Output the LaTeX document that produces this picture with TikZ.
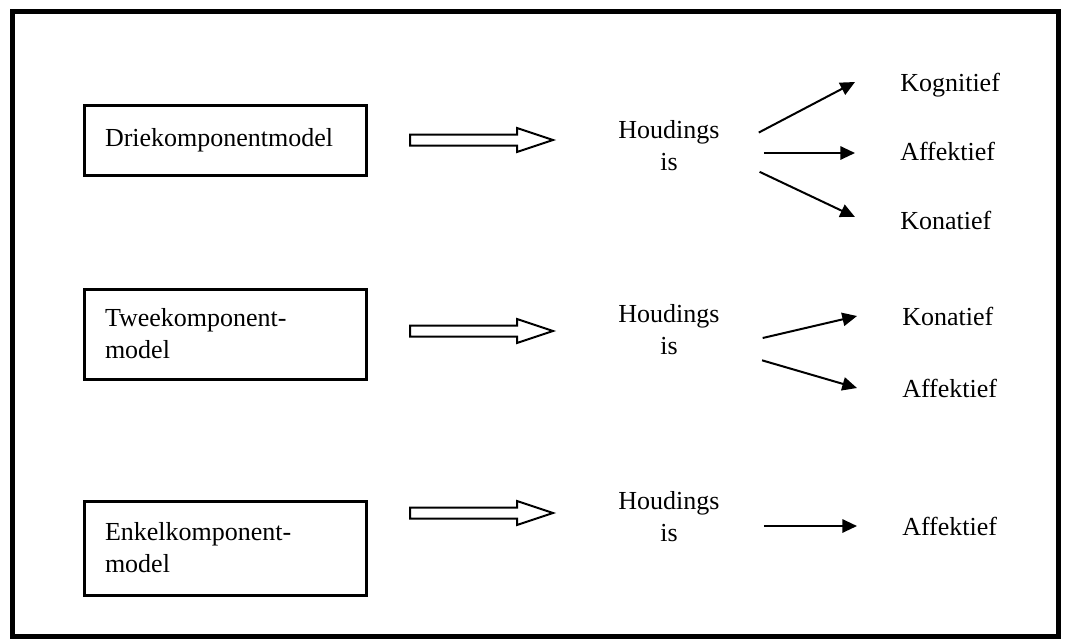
\documentclass[tikz,border=0pt]{standalone}
\usepackage{fontspec}
\setmainfont{Liberation Serif}
\usetikzlibrary{arrows.meta}
\begin{document}
\begin{tikzpicture}[x=0.75pt,y=0.75pt,
        every node/.style={font=\fontsize{19.5}{24}\selectfont, inner sep=0pt},
        model/.style={draw, line width=2.25pt, text width=180pt, align=left, inner xsep=15.75pt, minimum height=#1},
        hol/.style={draw, line width=1.5pt, line join=miter},
        hou/.style={align=center},
        comp/.style={anchor=base west},
        pijl/.style={line width=1.5pt, shorten <=33pt, -{Triangle[length=11pt,width=10pt]}}]
        \useasboundingbox (0,0) rectangle (1065,-640);
        \draw [line width=3.75pt] (12,-11) rectangle (1058,-636);
        \node [model=52.5pt] (drie) at (225,-140) {Driekomponentmodel};
        \node [model=67.5pt] (twee) at (225,-334) {Tweekomponent-\\model};
        \node [model=70.5pt] (enkel) at (225,-548) {Enkelkomponent-\\model};
        \draw [hol] (410,-134.5) -- ++(107,0) -- ++(0,6.5) -- ++(36,-12) -- ++(-36,-12) -- ++(0,6.5) -- ++(-107,0) -- cycle;
        \draw [hol] (410,-325.5) -- ++(107,0) -- ++(0,6.5) -- ++(36,-12) -- ++(-36,-12) -- ++(0,6.5) -- ++(-107,0) -- cycle;
        \draw [hol] (410,-507.5) -- ++(107,0) -- ++(0,6.5) -- ++(36,-12) -- ++(-36,-12) -- ++(0,6.5) -- ++(-107,0) -- cycle;
        \node [hou] (hou1) at (669,-146) {Houdings\\is};
        \node [hou] (hou2) at (669,-330) {Houdings\\is};
        \node [hou] (hou3) at (669,-517) {Houdings\\is};
        \node [comp] (kog1) at (900,-91) {Kognitief};
        \node [comp] (aff1) at (900,-160) {Affektief};
        \node [comp] (kon1) at (900,-229) {Konatief};
        \node [comp] (kon2) at (902,-325) {Konatief};
        \node [comp] (aff2) at (902,-397) {Affektief};
        \node [comp] (aff3) at (902,-535) {Affektief};
        \coordinate (h1) at ([yshift=-5.25pt]hou1.east);
        \coordinate (h2) at ([yshift=-13.5pt]hou2.east);
        \coordinate (h3) at ([yshift=-6.75pt]hou3.east);
        \draw [pijl] (h1) -- ([shift={(-45,9)}]kog1.base west);
        \draw [pijl] (h1) -- ([shift={(-45,7)}]aff1.base west);
        \draw [pijl] (h1) -- ([shift={(-45,12)}]kon1.base west);
        \draw [pijl] (h2) -- ([shift={(-45,9)}]kon2.base west);
        \draw [pijl] (h2) -- ([shift={(-45,9)}]aff2.base west);
        \draw [pijl] (h3) -- ([shift={(-45,9)}]aff3.base west);
\end{tikzpicture}
\end{document}
